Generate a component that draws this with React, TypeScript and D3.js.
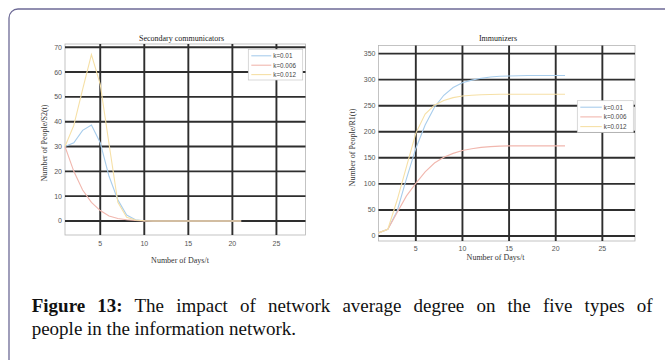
import * as d3 from "d3";
import React, { useRef, useLayoutEffect, useState } from "react";

// days of the simulation
const days = [1, 2, 3, 4, 5, 6, 7, 8, 9, 10, 11, 12, 13, 14, 15, 16, 17, 18, 19, 20, 21];
const seriesNames = ["k=0.01", "k=0.006", "k=0.012"];

// Secondary communicators S2(t)
const s2K010 = [30, 31.5, 36.5, 38.7, 31.5, 18, 8.5, 2.4, 0.5, 0.1, 0, 0, 0, 0, 0, 0, 0, 0, 0, 0, 0];
const s2K006 = [30, 20, 12.5, 7.5, 4.2, 2, 1, 0.5, 0.2, 0.05, 0, 0, 0, 0, 0, 0, 0, 0, 0, 0, 0];
const s2K012 = [30, 38.5, 53, 67, 55, 31, 7.5, 1.5, 0.4, 0.1, 0, 0, 0, 0, 0, 0, 0, 0, 0, 0, 0];

// Immunizers R1(t)
const r1K010 = [6, 13, 48, 110, 168, 213, 247, 270, 285, 294, 299, 302.5, 305, 306.5, 307, 307.5, 308, 308, 308, 308, 308];
const r1K006 = [6, 13, 45, 77, 101, 123, 140, 151, 158.5, 164, 167.5, 170, 171.5, 172.5, 173, 173, 173, 173, 173, 173, 173];
const r1K012 = [6, 13, 69, 133, 197, 234, 251, 260, 265.5, 268.5, 270, 271, 271.5, 272, 272, 272, 272, 272, 272, 272, 272];

const xTicks = [5, 10, 15, 20, 25];
const s2Ticks = [0, 10, 20, 30, 40, 50, 60, 70];
const r1Ticks = [0, 50, 100, 150, 200, 250, 300, 350];

const colors = ["#a8cdec", "#f1b7ae", "#f6e0a6"];
const tickFont = "'Liberation Sans', Arial, sans-serif";
const serif = "'Liberation Serif', 'Times New Roman', serif";

const Panel = props => {
  const { cfg } = props;
  const x = d3.scaleLinear().domain(cfg.xDomain).range([cfg.left, cfg.right]);
  const y = d3.scaleLinear().domain(cfg.yDomain).range([cfg.bottom, cfg.top]);
  const line = d3.line().x((d, i) => x(days[i])).y(d => y(d));
  const lg = cfg.legend;

  return (
    <g>
      <rect x={cfg.left} y={cfg.top} width={cfg.right - cfg.left} height={cfg.bottom - cfg.top}
        fill="#fff" stroke="#b5b5b5" strokeWidth={0.8} />
      {xTicks.map(t => (
        <line key={"gx" + t} x1={x(t)} x2={x(t)} y1={cfg.top} y2={cfg.bottom} stroke="#2e2e2e" strokeWidth={1.9} />
      ))}
      {cfg.yTicks.map(t => (
        <line key={"gy" + t} x1={cfg.left} x2={cfg.right} y1={y(t)} y2={y(t)} stroke="#2e2e2e" strokeWidth={1.9} />
      ))}
      {cfg.series.map((s, i) => (
        <path key={"s" + i} d={line(s)} fill="none" stroke={colors[i]} strokeWidth={1.1} />
      ))}
      {xTicks.map(t => (
        <text key={"tx" + t} x={x(t)} y={cfg.xTickY} textAnchor="middle" fontFamily={tickFont} fontSize={7} fill="#555">{t}</text>
      ))}
      {cfg.yTicks.map(t => (
        <text key={"ty" + t} x={cfg.left - 3} y={y(t) + 2.5} textAnchor="end" fontFamily={tickFont} fontSize={7} fill="#555">{t}</text>
      ))}
      <text x={cfg.titleX} y={cfg.titleY} textAnchor="middle" fontFamily={serif} fontSize={8} fill="#222">{cfg.title}</text>
      <text x={cfg.xLabelX} y={cfg.xLabelY} textAnchor="middle" fontFamily={serif} fontSize={8} fill="#333">Number of Days/t</text>
      <text transform={`translate(${cfg.yLabelX},${cfg.yLabelY}) rotate(-90)`} textAnchor="middle" fontFamily={serif} fontSize={8} fill="#333">{cfg.yLabel}</text>
      <rect x={lg.x} y={lg.y} width={lg.w} height={lg.h} fill="#fff" stroke="#c8c8c8" strokeWidth={0.7} />
      {seriesNames.map((n, i) => (
        <g key={n}>
          <line x1={lg.x + 3} x2={lg.x + 3 + lg.lineLen} y1={lg.y + 6.5 + i * lg.step} y2={lg.y + 6.5 + i * lg.step} stroke={colors[i]} strokeWidth={1.1} />
          <text x={lg.x + 5 + lg.lineLen} y={lg.y + 8.8 + i * lg.step} fontFamily={tickFont} fontSize={6.3} fill="#444">{n}</text>
        </g>
      ))}
    </g>
  );
};

// a caption line stretched to the column width, like justified text
const JustifiedLine = props => {
  const ref = useRef(null);
  const [ws, setWs] = useState(0);
  useLayoutEffect(() => {
    if (!props.width) return;
    const el = ref.current;
    const natural = el.getComputedTextLength();
    const spaces = (el.textContent.match(/ /g) || []).length;
    if (spaces > 0) setWs((props.width - natural) / spaces);
  }, []);
  return (
    <text ref={ref} x={props.x} y={props.y} fontFamily={serif} fontSize={19} fill="#111" style={{ wordSpacing: ws + "px" }}>
      {props.children}
    </text>
  );
};

const App = () => {
  const left = {
    left: 65, right: 305.5, top: 44, bottom: 235,
    xDomain: [1, 28.3], yDomain: [-5.64, 71.3], yTicks: s2Ticks,
    series: [s2K010, s2K006, s2K012],
    title: "Secondary communicators", titleX: 181.5, titleY: 40.5,
    xLabelX: 180, xLabelY: 262.5, xTickY: 246,
    yLabel: "Number of People/S2(t)", yLabelX: 46.5, yLabelY: 143,
    legend: { x: 248.3, y: 49.3, w: 54.4, h: 30.7, lineLen: 20, step: 9.4 }
  };
  const right = {
    left: 378.5, right: 635, top: 45.5, bottom: 241,
    xDomain: [1, 28.5], yDomain: [-9.6, 365.5], yTicks: r1Ticks,
    series: [r1K010, r1K006, r1K012],
    title: "Immunizers", titleX: 498, titleY: 41,
    xLabelX: 495.5, xLabelY: 260, xTickY: 251,
    yLabel: "Number of People/R1(t)", yLabelX: 354.5, yLabelY: 147.5,
    legend: { x: 577.3, y: 100.7, w: 56, h: 31.6, lineLen: 21.5, step: 9.7 }
  };

  return (
    <svg width={665} height={360} style={{ position: "absolute", left: 0, top: 0, background: "#fff" }}>
      <rect x={9} y={9} width={700} height={400} rx={9} fill="#fff" stroke="#6d6a96" strokeWidth={1.3} />
      <Panel cfg={left} />
      <Panel cfg={right} />
      <JustifiedLine x={31.7} y={311.7} width={621}>
        <tspan fontWeight="bold">Figure 13:</tspan> The impact of network average degree on the five types of
      </JustifiedLine>
      <text x={31.7} y={335} fontFamily={serif} fontSize={19} fill="#111">people in the information network.</text>
    </svg>
  );
};

export default App;
